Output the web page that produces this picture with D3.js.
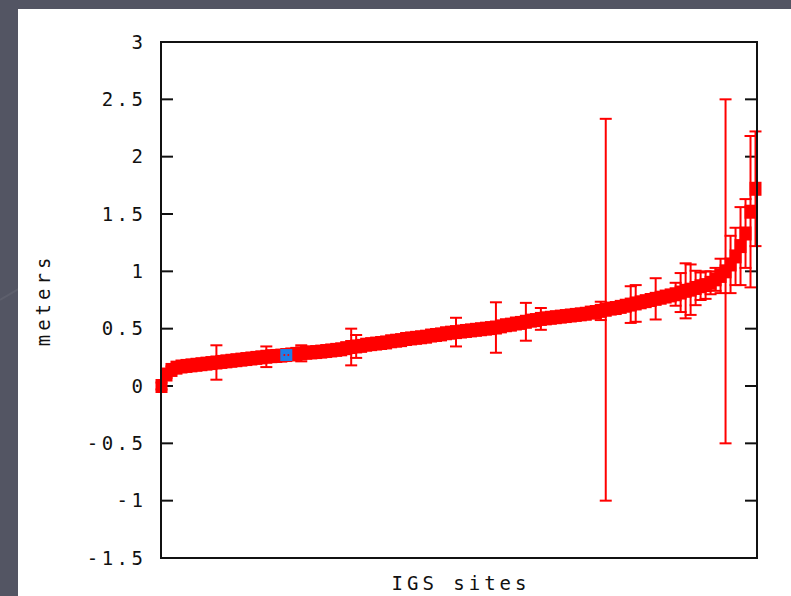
<!DOCTYPE html>
<html><head><meta charset="utf-8">
<script src="https://cdn.jsdelivr.net/npm/d3@7"></script>
<style>
html,body{margin:0;padding:0;background:#535563;}
svg{display:block;}
text{font-family:"DejaVu Sans Mono",monospace;fill:#111;}
</style></head><body>
<script>
// ---- data ----
const yTicks = [3, 2.5, 2, 1.5, 1, 0.5, 0, -0.5, -1, -1.5];
const yTickLabels = ["3","2.5","2","1.5","1","0.5","0","-0.5","-1","-1.5"];
const xLabel = "IGS sites";
const yLabel = "meters";
// sorted site values (meters)
const siteValues = [
 0.00,0.10,0.14,0.16,0.17,0.175,0.18,0.185,0.19,0.195,
 0.20,0.205,0.21,0.215,0.22,0.225,0.23,0.235,0.24,0.245,
 0.25,0.255,0.26,0.262,0.265,0.27,0.275,0.28,0.285,0.29,
 0.293,0.296,0.30,0.305,0.31,0.315,0.32,0.33,0.34,0.345,
 0.35,0.36,0.365,0.37,0.375,0.38,0.39,0.395,0.40,0.41,
 0.415,0.42,0.425,0.43,0.44,0.445,0.45,0.46,0.465,0.47,
 0.475,0.48,0.485,0.49,0.495,0.50,0.505,0.51,0.52,0.53,
 0.535,0.545,0.55,0.56,0.57,0.575,0.585,0.59,0.595,0.60,
 0.605,0.61,0.615,0.62,0.625,0.63,0.64,0.645,0.655,0.665,
 0.675,0.68,0.69,0.70,0.71,0.72,0.73,0.74,0.75,0.76,
 0.77,0.78,0.79,0.80,0.815,0.83,0.84,0.855,0.87,0.88,
 0.90,0.93,0.96,1.00,1.06,1.13,1.22,1.33,1.52,1.72
];
// error (half-length) per site
const siteErrors = [
 0.03,0.03,0.03,0.03,0.03,0.03,0.03,0.03,0.03,0.03,
 0.03,0.15,0.03,0.03,0.03,0.03,0.03,0.03,0.03,0.03,
 0.03,0.09,0.03,0.03,0.03,0.03,0.03,0.03,0.07,0.03,
 0.03,0.03,0.03,0.03,0.03,0.03,0.03,0.03,0.16,0.10,
 0.03,0.03,0.03,0.03,0.03,0.03,0.03,0.03,0.03,0.03,
 0.03,0.03,0.03,0.03,0.03,0.03,0.03,0.03,0.03,0.125,
 0.03,0.03,0.03,0.03,0.03,0.03,0.03,0.22,0.03,0.03,
 0.03,0.03,0.03,0.165,0.03,0.03,0.095,0.03,0.03,0.03,
 0.03,0.03,0.03,0.03,0.03,0.03,0.03,0.03,0.08,1.665,
 0.03,0.03,0.03,0.03,0.16,0.16,0.03,0.03,0.03,0.18,
 0.03,0.03,0.03,0.10,0.17,0.24,0.22,0.15,0.12,0.12,
 0.10,0.10,0.15,1.5,0.25,0.25,0.34,0.30,0.66,0.50
];
const highlightIndex = 25;

// ---- layout ----
const W = 791, H = 596;
const svg = d3.select("body").append("svg").attr("width", W).attr("height", H);
svg.append("rect").attr("x",0).attr("y",0).attr("width",W).attr("height",H).attr("fill","#535563");
svg.append("path").attr("d","M0,300 Q120,230 260,120").attr("stroke","#5d5f6c").attr("stroke-width",2).attr("fill","none");
svg.append("rect").attr("x",18).attr("y",9).attr("width",W-18).attr("height",H-9).attr("fill","#fff");

const plot = {left:161, right:757, top:42, bottom:558};
const y = d3.scaleLinear().domain([-1.5, 3]).range([plot.bottom, plot.top]);
const x = d3.scaleLinear().domain([0, siteValues.length - 1]).range([plot.left + 0.5, plot.right - 1.5]);

// axes
const gL = svg.append("g").attr("transform", `translate(${plot.left},0)`)
  .call(d3.axisLeft(y).tickValues(yTicks).tickSize(0).tickPadding(18)
    .tickFormat((d,i) => yTickLabels[i]));
gL.select(".domain").remove();
gL.selectAll("text").style("font-size","19px").style("letter-spacing","3.5px")
  .attr("dx","3.5px").attr("fill","#111");
svg.append("g").selectAll("line.tl").data(yTicks).join("line")
  .attr("x1",plot.left).attr("x2",plot.left+12).attr("y1",d=>y(d)).attr("y2",d=>y(d))
  .attr("stroke","#111").attr("stroke-width",2);
svg.append("g").selectAll("line.tr").data(yTicks).join("line")
  .attr("x1",plot.right-12).attr("x2",plot.right).attr("y1",d=>y(d)).attr("y2",d=>y(d))
  .attr("stroke","#111").attr("stroke-width",2);

// data marks
const g = svg.append("g");
const data = siteValues.map((v,i)=>({i, v, e: siteErrors[i]}));
const red = "#ff0000";
g.selectAll("rect.m").data(data).join("rect")
  .attr("x", d => x(d.i) - 6).attr("y", d => y(d.v) - 7)
  .attr("width", 12).attr("height", 14).attr("fill", red);
const eb = g.selectAll("g.eb").data(data).join("g");
eb.append("line").attr("x1",d=>x(d.i)).attr("x2",d=>x(d.i))
  .attr("y1",d=>y(d.v+d.e)).attr("y2",d=>y(d.v-d.e)).attr("stroke",red).attr("stroke-width",2);
eb.append("line").attr("x1",d=>x(d.i)-6).attr("x2",d=>x(d.i)+6)
  .attr("y1",d=>y(d.v+d.e)).attr("y2",d=>y(d.v+d.e)).attr("stroke",red).attr("stroke-width",2);
eb.append("line").attr("x1",d=>x(d.i)-6).attr("x2",d=>x(d.i)+6)
  .attr("y1",d=>y(d.v-d.e)).attr("y2",d=>y(d.v-d.e)).attr("stroke",red).attr("stroke-width",2);

// highlighted site
const hd = data[highlightIndex];
g.append("rect").attr("x", x(hd.i)-6).attr("y", y(hd.v)-6).attr("width",12).attr("height",12).attr("fill","#1f7fe6");
g.append("circle").attr("cx",x(hd.i)-2).attr("cy",y(hd.v)).attr("r",1).attr("fill",red);
g.append("circle").attr("cx",x(hd.i)+2).attr("cy",y(hd.v)).attr("r",1).attr("fill",red);

// frame
svg.append("rect").attr("x",plot.left).attr("y",plot.top)
  .attr("width",plot.right-plot.left).attr("height",plot.bottom-plot.top)
  .attr("fill","none").attr("stroke","#111").attr("stroke-width",2);

// labels
svg.append("text").attr("x",(plot.left+plot.right)/2 + 2).attr("y",590)
  .attr("text-anchor","middle").style("font-size","19px").style("letter-spacing","4px").text(xLabel);
svg.append("text").attr("transform",`translate(50,${(plot.top+plot.bottom)/2})rotate(-90)`)
  .attr("text-anchor","middle").style("font-size","19px").style("letter-spacing","4px").text(yLabel);
</script>
</body></html>
